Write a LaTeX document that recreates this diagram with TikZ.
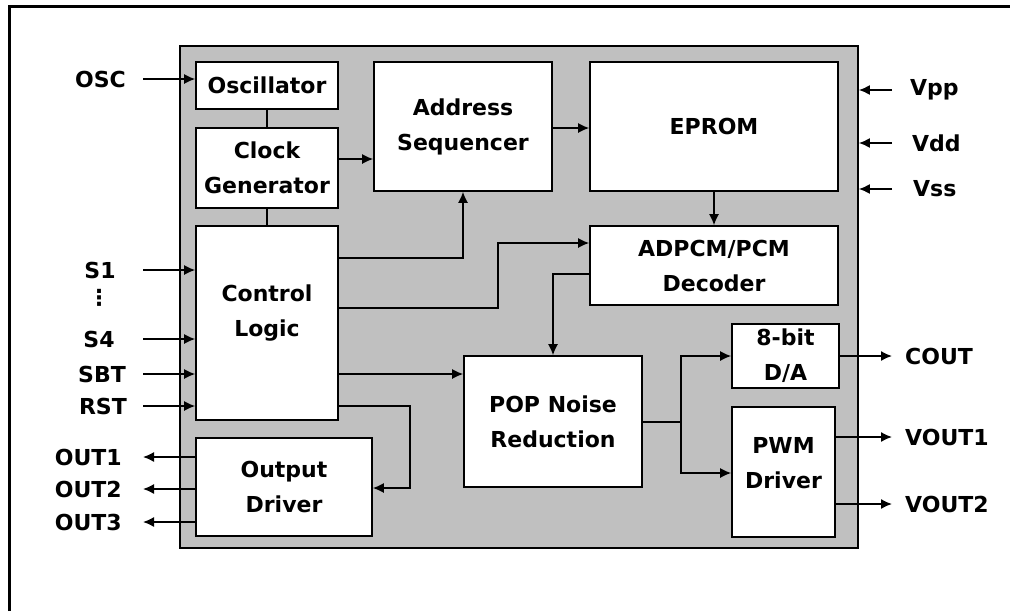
\documentclass[tikz,border=0pt]{standalone}
\usepackage{fontspec}
\setmainfont{DejaVu Sans}
\usetikzlibrary{arrows.meta}
\definecolor{panelgray}{RGB}{192,192,192}
\tikzstyle{block}=[
    draw = black,
    line width = 1.6pt,
    fill = white,
    align = center,
    inner sep = 0pt
]
\tikzstyle{sig}=[
    line width = 1.5pt,
    -{Latex[length=11pt,width=10pt]}
]

\begin{document}
\begin{tikzpicture}[x=1pt, y=-1pt, font=\fontsize{22}{35}\selectfont\bfseries,
    wire/.style = {line width=1.5pt},
    sigtext/.style = {inner sep=0pt},
    panel/.style = {draw, line width=1.8pt, fill=panelgray, inner sep=0pt}]
        \useasboundingbox (0,0) rectangle (1010,611);
        \draw[line width=3pt] (9,611) -- (9,6) -- (1010,6);

        \node[panel, minimum width=678pt, minimum height=502pt] (chip) at (519,297) {};

        \node[block, minimum width=142pt, minimum height=47pt] (osc) at (267,85.5) {Oscillator};
        \node[block, minimum width=142pt, minimum height=80pt] (clk) at (267,168) {Clock\\Generator};
        \node[block, minimum width=142pt, minimum height=194pt,
              label={[align=center, yshift=9.5pt]center:Control\\Logic}] (ctrl) at (267,323) {};
        \node[block, minimum width=176pt, minimum height=98pt] (outdrv) at (284,487) {Output\\Driver};
        \node[block, minimum width=178pt, minimum height=129pt] (addr) at (463,126.5) {Address\\Sequencer};
        \node[block, minimum width=248pt, minimum height=129pt] (eprom) at (714,126.5) {EPROM};
        \node[block, minimum width=248pt, minimum height=79pt] (dec) at (714,265.5) {ADPCM/PCM\\Decoder};
        \node[block, minimum width=178pt, minimum height=131pt] (pop) at (553,421.5) {POP Noise\\Reduction};
        \node[block, minimum width=107pt, minimum height=64pt] (da) at (785.5,356) {8-bit\\D/A};
        \node[block, minimum width=103pt, minimum height=130pt,
              label={[align=center, yshift=8.5pt]center:PWM\\Driver}] (pwm) at (783.5,472) {};

        \node[sigtext, anchor=east] (OSC) at (126,79) {OSC};
        \node[sigtext] (S1) at (100,270) {S1};
        \node[sigtext] (dots) at (99,298) {⋮};
        \node[sigtext] (S4) at (99,339) {S4};
        \node[sigtext, anchor=east] (SBT) at (126,374) {SBT};
        \node[sigtext, anchor=east] (RST) at (127,406) {RST};
        \node[sigtext, anchor=east] (OUT1) at (122,457) {OUT1};
        \node[sigtext, anchor=east] (OUT2) at (122,489) {OUT2};
        \node[sigtext, anchor=east] (OUT3) at (122,522) {OUT3};
        \node[sigtext, anchor=west] (Vpp) at (910,90) {Vpp};
        \node[sigtext, anchor=west] (Vdd) at (912,143) {Vdd};
        \node[sigtext, anchor=west] (Vss) at (913,189) {Vss};
        \node[sigtext, anchor=west] (COUT) at (905,356) {COUT};
        \node[sigtext, anchor=west] (VOUT1) at (905,437) {VOUT1};
        \node[sigtext, anchor=west] (VOUT2) at (905,504) {VOUT2};
        \coordinate (split) at (681,422);

        \draw[sig] ([xshift=17pt]OSC.east) -- (osc.west |- OSC);
        \draw[sig] ([xshift=43pt]S1.center) -- (ctrl.west |- S1);
        \draw[sig] ([xshift=44pt]S4.center) -- (ctrl.west |- S4);
        \draw[sig] ([xshift=17pt]SBT.east) -- (ctrl.west |- SBT);
        \draw[sig] ([xshift=16pt]RST.east) -- (ctrl.west |- RST);
        \draw[sig] (outdrv.west |- OUT1) -- ([xshift=21pt]OUT1.east);
        \draw[sig] (outdrv.west |- OUT2) -- ([xshift=21pt]OUT2.east);
        \draw[sig] (outdrv.west |- OUT3) -- ([xshift=21pt]OUT3.east);
        \draw[sig] ([xshift=-18pt]Vpp.west) -- (chip.east |- Vpp);
        \draw[sig] ([xshift=-20pt]Vdd.west) -- (chip.east |- Vdd);
        \draw[sig] ([xshift=-21pt]Vss.west) -- (chip.east |- Vss);
        \draw[sig] (da.east) -- ([xshift=-13pt]COUT.west);
        \draw[sig] (pwm.east |- VOUT1) -- ([xshift=-13pt]VOUT1.west);
        \draw[sig] (pwm.east |- VOUT2) -- ([xshift=-13pt]VOUT2.west);

        \draw[wire] (osc) -- (clk);
        \draw[wire] (clk) -- (ctrl);
        \draw[sig] (clk.east |- 0,159) -- (addr.west |- 0,159);
        \draw[sig] (addr.east |- 0,128) -- (eprom.west |- 0,128);
        \draw[sig] (eprom) -- (dec);
        \draw[sig] (ctrl.east |- 0,258) -| (addr.south);
        \draw[sig] (ctrl.east |- 0,308) -- (498,308) |- (dec.west |- 0,243);
        \draw[sig] (dec.west |- 0,274) -| (pop.north);
        \draw[sig] (ctrl.east |- 0,374) -- (pop.west |- 0,374);
        \draw[sig] (ctrl.east |- 0,406) -- (410,406) |- (outdrv.east |- 0,488);
        \draw[wire] (pop.east |- split) -- (split);
        \draw[sig] (split) |- (da.west);
        \draw[sig] (split) |- (pwm.west |- 0,473);

    \end{tikzpicture}
\end{document}
